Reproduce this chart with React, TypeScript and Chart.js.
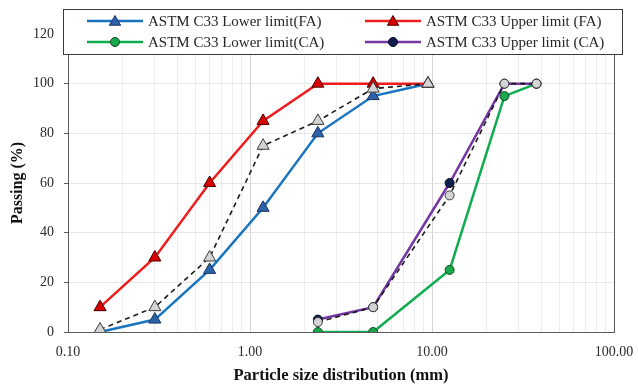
import React, { useEffect, useRef } from "react";
import { Chart, registerables } from "chart.js";

Chart.register(...registerables);

// ---- data ----
const faSieves = [0.15, 0.3, 0.6, 1.18, 2.36, 4.75, 9.5];
const caSieves = [2.36, 4.75, 12.5, 25, 37.5];

const lowerFA = [0, 5, 25, 50, 80, 95, 100];
const upperFA = [10, 30, 60, 85, 100, 100, 100];
const sampleFA = [1, 10, 30, 75, 85, 98, 100];

const lowerCA = [0, 0, 25, 95, 100];
const upperCA = [5, 10, 60, 100, 100];
const sampleCA = [4, 10, 55, 100, 100];

const legendLabels = [
  "ASTM C33 Lower limit(FA)",
  "ASTM C33 Upper limit (FA)",
  "ASTM C33 Lower limit(CA)",
  "ASTM C33 Upper limit (CA)",
];

const xDecades = [0.1, 1, 10];
const xMultipliers = [1, 2, 3, 4, 5, 6, 7, 8, 9];
const xMax = 100;
const yTicks = [0, 20, 40, 60, 80, 100, 120];

const xTitle = "Particle size distribution (mm)";
const yTitle = "Passing (%)";

const FONT = "'Liberation Serif', 'Times New Roman', serif";

const toXY = (xs: number[], ys: number[]) => xs.map((x, i) => ({ x, y: ys[i] }));

const isPow10 = (v: number) => Math.abs(Math.log10(v) - Math.round(Math.log10(v))) < 1e-9;

type LegendItem = {
  label: string;
  line: string;
  fill: string;
  border: string;
  style: "triangle" | "circle";
};

const legendItems: LegendItem[] = [
  { label: legendLabels[0], line: "#1874bf", fill: "#2b62a8", border: "#1c3360", style: "triangle" },
  { label: legendLabels[1], line: "#ee1c1c", fill: "#d80000", border: "#4a0000", style: "triangle" },
  { label: legendLabels[2], line: "#10ac50", fill: "#1aa64a", border: "#0c4a22", style: "circle" },
  { label: legendLabels[3], line: "#7436a2", fill: "#10204e", border: "#050a1a", style: "circle" },
];

function drawMarker(ctx: CanvasRenderingContext2D, style: string, x: number, y: number, r: number, fill: string, border: string) {
  ctx.beginPath();
  if (style === "triangle") {
    ctx.moveTo(x, y - r);
    ctx.lineTo(x + r * 0.866, y + r * 0.5);
    ctx.lineTo(x - r * 0.866, y + r * 0.5);
    ctx.closePath();
  } else {
    ctx.arc(x, y, r, 0, Math.PI * 2);
  }
  ctx.fillStyle = fill;
  ctx.fill();
  ctx.lineWidth = 1;
  ctx.strokeStyle = border;
  ctx.stroke();
}

const framePlugin = {
  id: "frameAndLegend",
  afterDraw(chart: any) {
    const { ctx, chartArea } = chart;
    ctx.save();
    // right border
    ctx.strokeStyle = "#5a5a5a";
    ctx.lineWidth = 1;
    ctx.beginPath();
    ctx.moveTo(Math.round(chartArea.right) + 0.5, chartArea.top);
    ctx.lineTo(Math.round(chartArea.right) + 0.5, chartArea.bottom);
    ctx.stroke();

    // legend box
    const bx = chartArea.left - 5;
    const by = 9;
    const bw = chartArea.right + 8 - bx;
    const bh = 45;
    ctx.fillStyle = "#ffffff";
    ctx.fillRect(bx, by, bw, bh);
    ctx.strokeStyle = "#3a3a3a";
    ctx.strokeRect(bx + 0.5, by + 0.5, bw, bh);

    const colX = [bx + 24, bx + 302];
    const rowY = [by + 12, by + 33];
    ctx.font = `15px ${FONT}`;
    ctx.textBaseline = "middle";
    ctx.textAlign = "left";
    legendItems.forEach((it, i) => {
      const cx = colX[i % 2];
      const cy = rowY[Math.floor(i / 2)];
      ctx.strokeStyle = it.line;
      ctx.lineWidth = 2.5;
      ctx.beginPath();
      ctx.moveTo(cx, cy);
      ctx.lineTo(cx + 56, cy);
      ctx.stroke();
      drawMarker(ctx, it.style, cx + 28, cy + (it.style === "triangle" ? 1 : 0), it.style === "triangle" ? 6.5 : 4.5, it.fill, it.border);
      ctx.fillStyle = "#262626";
      ctx.fillText(it.label, cx + 61, cy + 1);
    });
    ctx.restore();
  },
};

export default function App() {
  const ref = useRef<HTMLCanvasElement>(null);

  useEffect(() => {
    if (!ref.current) return;
    const limitLine = (data: any, it: LegendItem, order: number) => ({
      data,
      borderColor: it.line,
      borderWidth: 2.5,
      pointStyle: it.style,
      pointRadius: it.style === "triangle" ? 7 : 4.5,
      pointBackgroundColor: it.fill,
      pointBorderColor: it.border,
      pointBorderWidth: 1,
      tension: 0,
      order,
    });
    const sampleLine = (data: any, style: string, order: number) => ({
      data,
      borderColor: "#1a1a1a",
      borderWidth: 1.6,
      borderDash: [5, 4],
      pointStyle: style,
      pointRadius: style === "triangle" ? 7 : 4.5,
      pointBackgroundColor: "#d4d4d4",
      pointBorderColor: "#3a3a3a",
      pointBorderWidth: 1,
      tension: 0,
      order,
    });

    const chart = new Chart(ref.current, {
      type: "line",
      data: {
        datasets: [
          sampleLine(toXY(faSieves, sampleFA), "triangle", 0),
          sampleLine(toXY(caSieves, sampleCA), "circle", 1),
          limitLine(toXY(faSieves, lowerFA), legendItems[0], 4),
          limitLine(toXY(faSieves, upperFA), legendItems[1], 3),
          limitLine(toXY(caSieves, lowerCA), legendItems[2], 5),
          limitLine(toXY(caSieves, upperCA), legendItems[3], 2),
        ] as any,
      },
      options: {
        animation: false,
        responsive: false,
        layout: { padding: { top: 34, right: 24, left: 0, bottom: 0 } },
        plugins: { legend: { display: false }, tooltip: { enabled: false } },
        scales: {
          x: {
            type: "logarithmic",
            min: xDecades[0],
            max: xMax,
            afterBuildTicks: (scale: any) => {
              const vals: number[] = [];
              xDecades.forEach((d) => xMultipliers.forEach((m) => vals.push(d * m)));
              vals.push(xMax);
              scale.ticks = vals.map((v) => ({ value: v }));
            },
            afterFit: (scale: any) => {
              scale.height = 55;
              scale.paddingLeft = 0;
              scale.paddingRight = 0;
            },
            ticks: {
              autoSkip: false,
              maxRotation: 0,
              padding: 12,
              color: "#2a2a2a",
              font: { family: FONT, size: 14 },
              callback: (v: any) => (isPow10(Number(v)) ? Number(v).toFixed(2) : ""),
            },
            grid: {
              drawTicks: false,
              color: (c: any) => (c.tick && isPow10(c.tick.value) ? "#d4d4d4" : "#ededed"),
              lineWidth: 1,
            },
            border: { color: "#5a5a5a", width: 1 },
            title: {
              display: true,
              text: xTitle,
              color: "#111111",
              font: { family: FONT, size: 16.5, weight: "bold" },
              padding: { top: 0, bottom: 1 },
            },
          },
          y: {
            type: "linear",
            min: 0,
            max: 120,
            afterBuildTicks: (scale: any) => {
              scale.ticks = yTicks.map((v) => ({ value: v }));
            },
            afterFit: (scale: any) => {
              scale.width = 68;
              scale.paddingTop = 0;
              scale.paddingBottom = 0;
            },
            ticks: {
              padding: 10,
              color: "#2a2a2a",
              font: { family: FONT, size: 14 },
            },
            grid: {
              color: "#e6e6e6",
              tickColor: "#5a5a5a",
              tickLength: 4,
              lineWidth: 1,
            },
            border: { color: "#5a5a5a", width: 1 },
            title: {
              display: true,
              text: yTitle,
              color: "#111111",
              font: { family: FONT, size: 16, weight: "bold" },
              padding: { top: 8, bottom: 0 },
            },
          },
        },
      },
      plugins: [framePlugin],
    });
    return () => chart.destroy();
  }, []);

  return (
    <div style={{ position: "absolute", left: 0, top: 0, width: 638, height: 387, background: "#fff" }}>
      <canvas ref={ref} width={638} height={387} style={{ width: 638, height: 387, display: "block" }} />
    </div>
  );
}
